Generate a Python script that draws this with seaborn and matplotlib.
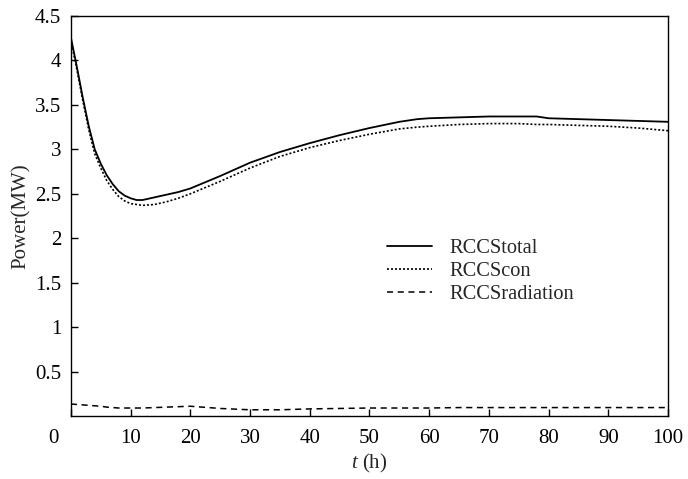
import matplotlib
matplotlib.use("Agg")
import matplotlib.pyplot as plt
import matplotlib.transforms as mtransforms
import seaborn as sns
import pandas as pd

t = [0, 1, 2, 3, 4, 5, 6, 7, 8, 9, 10, 11, 12, 14, 16, 18, 20, 25, 30, 35, 40,
     45, 50, 55, 58, 60, 65, 70, 75, 78, 80, 85, 90, 95, 100]
rccs_total = [4.26, 3.93, 3.58, 3.26, 3.00, 2.84, 2.71, 2.61, 2.53, 2.48, 2.45, 2.43,
              2.43, 2.46, 2.49, 2.52, 2.56, 2.70, 2.85, 2.97, 3.07, 3.16, 3.24, 3.31,
              3.34, 3.35, 3.36, 3.37, 3.37, 3.37, 3.35, 3.34, 3.33, 3.32, 3.31]
rccs_con = [4.23, 3.90, 3.55, 3.22, 2.95, 2.79, 2.65, 2.55, 2.47, 2.42, 2.39, 2.38,
            2.37, 2.38, 2.41, 2.45, 2.50, 2.64, 2.79, 2.92, 3.02, 3.10, 3.17, 3.23,
            3.25, 3.26, 3.28, 3.29, 3.29, 3.28, 3.28, 3.27, 3.26, 3.24, 3.21]
rccs_rad = [0.135, 0.13, 0.125, 0.12, 0.115, 0.11, 0.10, 0.095, 0.09, 0.09, 0.09, 0.09,
            0.09, 0.095, 0.10, 0.105, 0.11, 0.085, 0.07, 0.07, 0.08, 0.085, 0.09, 0.09,
            0.09, 0.09, 0.095, 0.095, 0.095, 0.095, 0.095, 0.095, 0.095, 0.095, 0.095]
series_names = ["RCCStotal", "RCCScon", "RCCSradiation"]
x_ticks = [0, 10, 20, 30, 40, 50, 60, 70, 80, 90, 100]
y_ticks = [0.5, 1, 1.5, 2, 2.5, 3, 3.5, 4, 4.5]

sns.set_theme(style="ticks")
plt.rcParams["font.family"] = ["Liberation Serif", "DejaVu Serif"]
plt.rcParams["mathtext.fontset"] = "custom"
plt.rcParams["mathtext.it"] = "Liberation Serif:italic"
plt.rcParams["mathtext.rm"] = "Liberation Serif"

fig = plt.figure(figsize=(6.88, 4.79), dpi=100)
ax = fig.add_axes([0.103, 0.1315, 0.868, 0.835])

styles = [dict(linestyle="-", linewidth=1.3),
          dict(linestyle=(0, (1.2, 1.2)), linewidth=1.2),
          dict(linestyle=(0, (4, 3)), linewidth=1.1)]
for name, vals, st in zip(series_names, [rccs_total, rccs_con, rccs_rad], styles):
    df = pd.DataFrame({"t": t, "P": vals})
    sns.lineplot(data=df, x="t", y="P", ax=ax, color="black", label=name, **st)

ax.set_xlim(0, 100)
ax.set_ylim(0, 4.5)
ax.set_xticks(x_ticks)
ax.set_xticklabels([str(v) for v in x_ticks])
ax.set_yticks(y_ticks)
ax.set_yticklabels([f"{v:g}" for v in y_ticks])
ax.tick_params(direction="in", length=5, width=1, labelsize=15, colors="black")
ax.tick_params(axis="x", pad=9)
ax.tick_params(axis="y", pad=7)
for s in ax.spines.values():
    s.set_visible(True)
    s.set_color("black")
    s.set_linewidth(1.0)

offset = mtransforms.ScaledTranslation(-0.17, 0, fig.dpi_scale_trans)
lbl0 = ax.get_xticklabels()[0]
lbl0.set_transform(lbl0.get_transform() + offset)

ax.set_xlabel(r"$t$ (h)", fontsize=15, labelpad=3)
ax.set_ylabel("Power(MW)", fontsize=15, labelpad=3)

leg = ax.legend(loc="upper left", bbox_to_anchor=(0.498, 0.49), frameon=False,
                fontsize=14.7, handlelength=2.2, handletextpad=0.9, labelspacing=0.2)
for h in leg.get_lines():
    h.set_color("black")

fig.savefig("out.png", dpi=100)
